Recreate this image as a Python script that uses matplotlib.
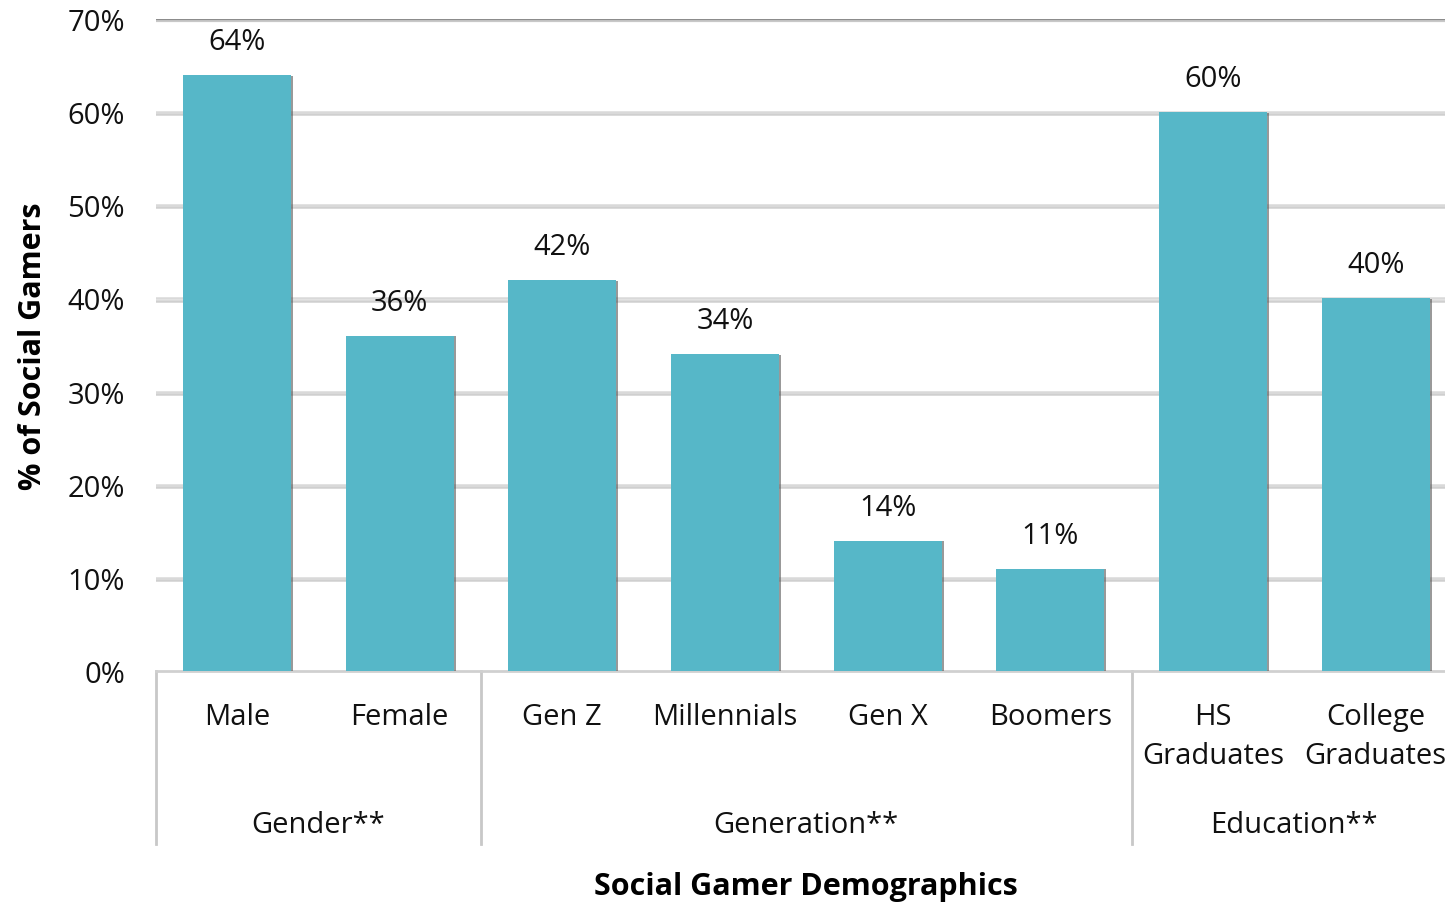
import matplotlib
matplotlib.use('Agg')
import matplotlib.pyplot as plt
import matplotlib.patheffects as pe
from matplotlib.transforms import blended_transform_factory

plt.rcParams['font.family'] = ['Open Sans', 'DejaVu Sans']

categories = ['Male', 'Female', 'Gen Z', 'Millennials', 'Gen X', 'Boomers',
              'HS\nGraduates', 'College\nGraduates']
values = [64, 36, 42, 34, 14, 11, 60, 40]
groups = ['Gender**', 'Generation**', 'Education**']
group_sizes = [2, 4, 2]
yticks = [0, 10, 20, 30, 40, 50, 60, 70]

bar_color = '#56B7C8'
fs = 21

fig = plt.figure(figsize=(14.45, 9.04), dpi=100)
ax = fig.add_axes([0.1077, 0.2566, 0.9006, 0.7212])

x = list(range(len(categories)))
bars = ax.bar(x, values, width=0.665, color=bar_color, zorder=3)
for b in bars:
    b.set_path_effects([pe.SimplePatchShadow(offset=(1.5, -0.5), shadow_rgbFace='#555555', alpha=0.6),
                        pe.Normal()])

for xi, v in zip(x, values):
    ax.text(xi, v + 3.6, f'{v}%', ha='center', va='center', fontsize=fs, color='#111111')

ax.set_xlim(-0.5, len(categories) - 0.5)
ax.set_ylim(0, 70)
ax.set_yticks(yticks)
ax.set_yticklabels([f'{t}%' for t in yticks], fontsize=fs, color='#111111')
ax.tick_params(axis='y', length=0, pad=22)
ax.tick_params(axis='x', length=0, labelbottom=False)

# light gridlines with a soft drop shadow, darker line at the top
for t in yticks[1:-1]:
    ax.axhline(t, color='#d9d9d9', lw=1.8, zorder=1,
               path_effects=[pe.SimpleLineShadow(offset=(0, -1.5), shadow_color='#b0b0b0', alpha=0.6), pe.Normal()])
ax.axhline(70, color='#8c8c8c', lw=1.6, zorder=1,
           path_effects=[pe.SimpleLineShadow(offset=(0, -1.5), shadow_color='#bbbbbb', alpha=0.8), pe.Normal()])

for s in ['top', 'right', 'left']:
    ax.spines[s].set_visible(False)
ax.spines['bottom'].set_color('#d0d0d0')
ax.spines['bottom'].set_linewidth(2)

# two-level category axis
trans = blended_transform_factory(ax.transData, ax.transAxes)
for xi, c in zip(x, categories):
    ax.text(xi, -0.048, c, transform=trans, ha='center', va='top', fontsize=fs,
            color='#111111', linespacing=1.45)

start = -0.5
for g, n in zip(groups, group_sizes):
    ax.plot([start, start], [0, -0.265], transform=trans, color='#c8c8c8', lw=2, clip_on=False)
    ax.text(start + n / 2, -0.236, g, transform=trans, ha='center', va='center',
            fontsize=fs, color='#111111')
    start += n
ax.plot([start, start], [0, -0.265], transform=trans, color='#c8c8c8', lw=2, clip_on=False)

ax.set_ylabel('% of Social Gamers', fontsize=22, fontweight='bold', labelpad=14)
fig.text(0.558, 0.019, 'Social Gamer Demographics', ha='center', va='center',
         fontsize=22, fontweight='bold')

fig.savefig('out.png', dpi=100)
